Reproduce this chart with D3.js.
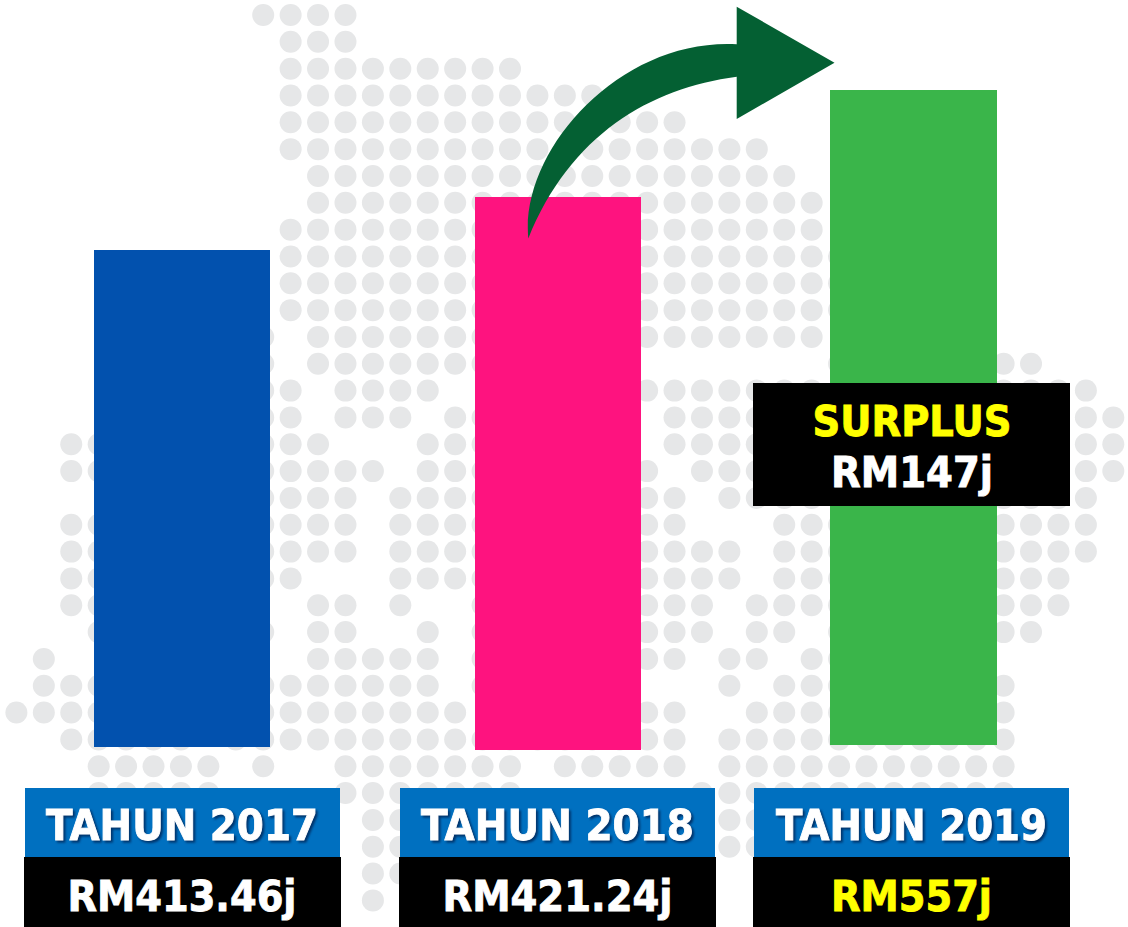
<!DOCTYPE html>
<html>
<head>
<meta charset="utf-8">
<script src="https://cdn.jsdelivr.net/npm/d3@7"></script>
<style>
  html, body { margin: 0; padding: 0; background: #fff; }
  svg { display: block; }
  text { font-family: "DejaVu Sans", sans-serif; font-weight: bold; text-anchor: middle; stroke-width: 0.9px; }
</style>
</head>
<body>
<div id="chart"></div>
<script>
// chart values
const years = ['TAHUN 2017', 'TAHUN 2018', 'TAHUN 2019'];
const values = [413.46, 421.24, 557];
const valueLabels = ['RM413.46j', 'RM421.24j', 'RM557j'];
const surplusLabels = ['SURPLUS', 'RM147j'];

// background map, one string per dot row, spans of dot columns
const mapRows = [
  '9-12', '10-12', '10-18', '10-21', '10-24', '10-27', '11-28', '11-29', '10-29',
  '10-30', '10-30', '10-30', '9 11-29', '9 11-22 30-37', '9-10 12-15 18-39',
  '9-10 12-14 16-22 24-40', '2-11 15-22 24-40', '2-13 15-23 25-40', '4-12 14-24 26-39',
  '2-12 14-24 28-39', '2-12 14-26 28-39', '2-10 14-26 28-38', '2-8 11-12 14 17-25 27-38',
  '3-9 11-12 15 17-25 27-28 30-37', '1 4-8 11-15 17-24 26-27 29-35', '1-15 17-22 26 28-36',
  '0-16 18-24 27-36', '2-6 8-24 26-36', '3-7 9 12-18 20-24 26-36', '3-7 12-18 25-36',
  '13-14 26-27', '13-14 26-27', '13-14', '13'
];

const width = 1128;
const height = 927;

const svg = d3.select('#chart')
  .append('svg')
  .attr('width', width)
  .attr('height', height);

// dot grid
const col = d3.scaleLinear().domain([0, 40]).range([16.4, 1113.3]);
const row = d3.scaleLinear().domain([0, 33]).range([15, 900.4]);

const dots = mapRows.flatMap((spans, r) => spans.split(' ').flatMap((span) => {
  const [from, to = from] = span.split('-').map(Number);
  return d3.range(from, to + 1).map((c) => ({ c, r }));
}));

svg.append('g')
  .selectAll('circle')
  .data(dots)
  .enter()
  .append('circle')
  .attr('cx', d => col(d.c))
  .attr('cy', d => row(d.r))
  .attr('r', 11)
  .attr('fill', '#E6E7E8');

// bars are pictorial, heights do not run straight from zero
const barHeight = d3.scaleLinear().domain([0, 413.46, 421.24, 557]).range([0, 497, 553, 655]);
const barX = d3.scaleOrdinal().domain(years).range([94, 475, 830]);
const barWidth = d3.scaleOrdinal().domain(years).range([176, 166, 167]);
const barBase = d3.scaleOrdinal().domain(years).range([747, 750, 745]);
const barColor = d3.scaleOrdinal().domain(years).range(['#0251AE', '#FE137F', '#3AB54A']);

const barData = years.map((year, i) => ({ year, value: values[i], label: valueLabels[i] }));

svg.append('g')
  .selectAll('rect')
  .data(barData)
  .enter()
  .append('rect')
  .attr('x', d => barX(d.year))
  .attr('y', d => barBase(d.year) - barHeight(d.value))
  .attr('width', d => barWidth(d.year))
  .attr('height', d => barHeight(d.value))
  .attr('fill', d => barColor(d.year));

// curved arrow from 2018 to 2019
const arrow = d3.path();
arrow.moveTo(528.3, 238.5);
arrow.bezierCurveTo(520, 150, 620, 38, 736.7, 44.3);
arrow.lineTo(736.7, 6.7);
arrow.lineTo(834.5, 62.7);
arrow.lineTo(736.7, 119);
arrow.lineTo(736.7, 76.7);
arrow.bezierCurveTo(650, 88, 570, 135, 528.3, 238.5);
arrow.closePath();

svg.append('path')
  .attr('d', arrow.toString())
  .attr('fill', '#046033');

// label boxes under the bars
const boxX = d3.scaleOrdinal().domain(years).range([24, 399, 753]);
const yearTextX = d3.scaleOrdinal().domain(years).range([182, 557.5, 911.5]);
const yearTextLen = d3.scaleOrdinal().domain(years).range([272, 273, 271]);
const valueTextLen = d3.scaleOrdinal().domain(years).range([229, 230, 161]);

const labels = svg.append('g')
  .selectAll('g')
  .data(barData)
  .enter()
  .append('g');

labels.append('rect')
  .attr('x', d => boxX(d.year) + 1)
  .attr('y', 788)
  .attr('width', 315)
  .attr('height', 69)
  .attr('fill', '#0070C0');

labels.append('rect')
  .attr('x', d => boxX(d.year))
  .attr('y', 857)
  .attr('width', 317)
  .attr('height', 70)
  .attr('fill', '#000');

labels.append('text')
  .text(d => d.year)
  .attr('x', d => yearTextX(d.year))
  .attr('y', 839.5)
  .attr('font-size', 42.5)
  .attr('textLength', d => yearTextLen(d.year))
  .attr('lengthAdjust', 'spacingAndGlyphs')
  .attr('fill', '#fff')
  .attr('stroke', '#fff')
  .style('filter', 'drop-shadow(2px 2px 1.2px rgba(0, 40, 90, 0.85))');

labels.append('text')
  .text(d => d.label)
  .attr('x', d => yearTextX(d.year))
  .attr('y', 910.5)
  .attr('font-size', 42.5)
  .attr('textLength', d => valueTextLen(d.year))
  .attr('lengthAdjust', 'spacingAndGlyphs')
  .attr('fill', (d, i) => i === 2 ? '#FFFF00' : '#fff')
  .attr('stroke', (d, i) => i === 2 ? '#FFFF00' : '#fff');

// surplus box
svg.append('rect')
  .attr('x', 753)
  .attr('y', 383)
  .attr('width', 317)
  .attr('height', 123)
  .attr('fill', '#000');

svg.append('text')
  .text(surplusLabels[0])
  .attr('x', 912)
  .attr('y', 435.5)
  .attr('font-size', 42.5)
  .attr('textLength', 199)
  .attr('lengthAdjust', 'spacingAndGlyphs')
  .attr('fill', '#FFFF00')
  .attr('stroke', '#FFFF00');

svg.append('text')
  .text(surplusLabels[1])
  .attr('x', 912)
  .attr('y', 486.5)
  .attr('font-size', 42.5)
  .attr('textLength', 162)
  .attr('lengthAdjust', 'spacingAndGlyphs')
  .attr('fill', '#fff')
  .attr('stroke', '#fff');
</script>
</body>
</html>
